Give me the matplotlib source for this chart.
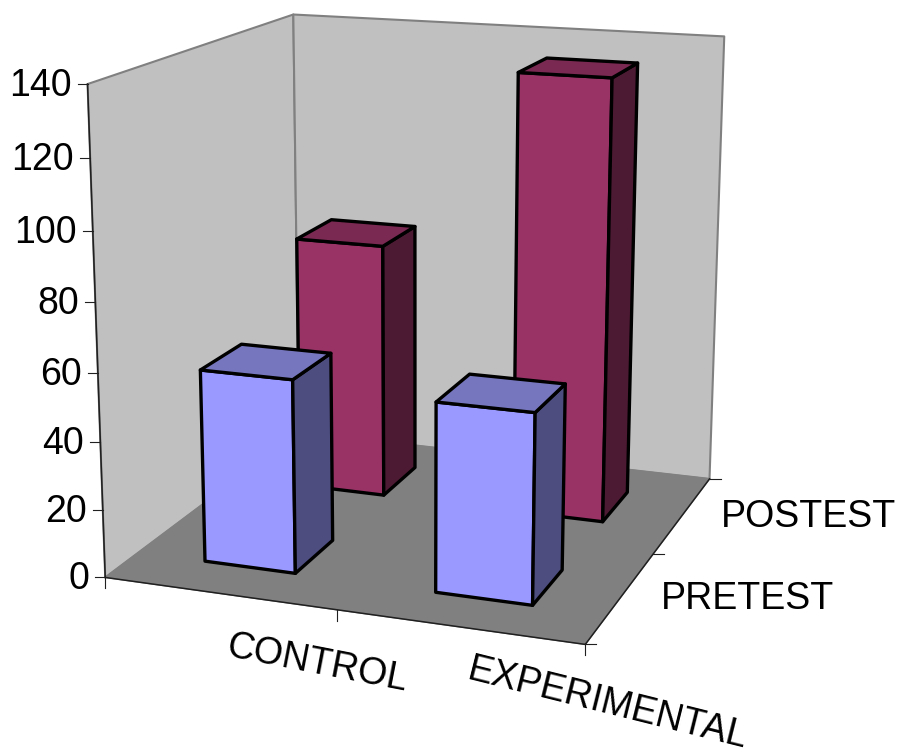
import numpy as np
import matplotlib
matplotlib.use('Agg')
import matplotlib.pyplot as plt

categories = ['CONTROL', 'EXPERIMENTAL']
series = ['PRETEST', 'POSTEST']
pretest = [57, 55]
posttest = [79, 134]
z_ticks = [0, 20, 40, 60, 80, 100, 120, 140]
z_max = 140.0

# corners of the box on the page, used to fit the perspective
box = [((0, 0, 0), (106, 576)), ((1, 0, 0), (585, 646)), ((1, 1, 0), (710, 477)),
       ((0, 1, 0), (298, 434)), ((0, 0, 1), (87, 84)), ((0, 1, 1), (294, 14)),
       ((1, 1, 1), (724, 37))]

def fit_projection(pairs):
    rows = []
    rhs = []
    for (x, y, z), (u, v) in pairs:
        rows.append([x, y, z, 1, 0, 0, 0, 0, -u * x, -u * y, -u * z])
        rhs.append(u)
        rows.append([0, 0, 0, 0, x, y, z, 1, -v * x, -v * y, -v * z])
        rhs.append(v)
    p = np.linalg.lstsq(np.array(rows, float), np.array(rhs, float), rcond=None)[0]
    return np.append(p, 1).reshape(3, 4)

P = fit_projection(box)

def proj(x, y, z):
    h = P @ np.array([x, y, z / z_max, 1.0])
    return h[0] / h[2], h[1] / h[2]

def face(ax, pts, color, edge='black', lw=2.4, zorder=2):
    xy = [proj(*p) for p in pts]
    ax.fill([q[0] for q in xy], [q[1] for q in xy], facecolor=color, edgecolor=edge,
            linewidth=lw, joinstyle='round', zorder=zorder)

def bar(ax, i, j, val, cols, zorder):
    # i category, j series
    x0 = (i + 0.3) / 2
    x1 = (i + 0.7) / 2
    y0 = (j + 0.3) / 2
    y1 = (j + 0.7) / 2
    front, top, side = cols
    face(ax, [(x0, y0, 0), (x1, y0, 0), (x1, y0, val), (x0, y0, val)], front, zorder=zorder)
    face(ax, [(x1, y0, 0), (x1, y1, 0), (x1, y1, val), (x1, y0, val)], side, zorder=zorder)
    face(ax, [(x0, y0, val), (x1, y0, val), (x1, y1, val), (x0, y1, val)], top, zorder=zorder)

fig = plt.figure(figsize=(9, 7.53), dpi=100)
ax = fig.add_axes([0, 0, 1, 1])
ax.set_xlim(0, 900)
ax.set_ylim(753, 0)
ax.axis('off')
plt.rcParams['font.family'] = ['Liberation Sans', 'DejaVu Sans']

wall = '#C0C0C0'
grey = '#808080'
face(ax, [(0, 0, 0), (0, 1, 0), (0, 1, z_max), (0, 0, z_max)], wall, grey, 1.5, 1)
face(ax, [(0, 1, 0), (1, 1, 0), (1, 1, z_max), (0, 1, z_max)], wall, grey, 1.5, 1)
face(ax, [(0, 0, 0), (1, 0, 0), (1, 1, 0), (0, 1, 0)], grey, grey, 1.0, 1)

# axis lines and ticks
dark = '#202020'
for a, b in [((0, 0, 0), (0, 0, z_max)), ((0, 0, 0), (1, 0, 0)), ((1, 0, 0), (1, 1, 0))]:
    pa, pb = proj(*a), proj(*b)
    ax.plot([pa[0], pb[0]], [pa[1], pb[1]], color=dark, lw=1.1, zorder=1.5)

for t in z_ticks:
    u, v = proj(0, 0, t)
    ax.plot([u - 10, u], [v, v], color=dark, lw=0.8, zorder=1.5)
    ax.text(u - 16, v + 2, str(t), ha='right', va='center', fontsize=27, color='black')
for i in range(len(categories) + 1):
    u, v = proj(i / 2, 0, 0)
    ax.plot([u, u], [v, v + 11], color=dark, lw=0.8, zorder=1.5)
for j in range(len(series) + 1):
    u, v = proj(1, j / 2, 0)
    ax.plot([u, u + 11], [v, v], color=dark, lw=0.8, zorder=1.5)

post_cols = ['#993366', '#7A2952', '#4D1A33']
pre_cols = ['#9999FF', '#7676BF', '#4D4D80']
for i in range(2):
    bar(ax, i, 1, posttest[i], post_cols, 3 + i)
for i in range(2):
    bar(ax, i, 0, pretest[i], pre_cols, 6 + i)

ax.text(317, 664, categories[0], ha='center', va='center', rotation=-11, rotation_mode='anchor', fontsize=27)
ax.text(608, 704, categories[1], ha='center', va='center', rotation=-14, rotation_mode='anchor', fontsize=27)
ax.text(747, 599, series[0], ha='center', va='center', fontsize=27)
ax.text(809, 517, series[1], ha='center', va='center', fontsize=27)

fig.savefig('out.png', dpi=100)
